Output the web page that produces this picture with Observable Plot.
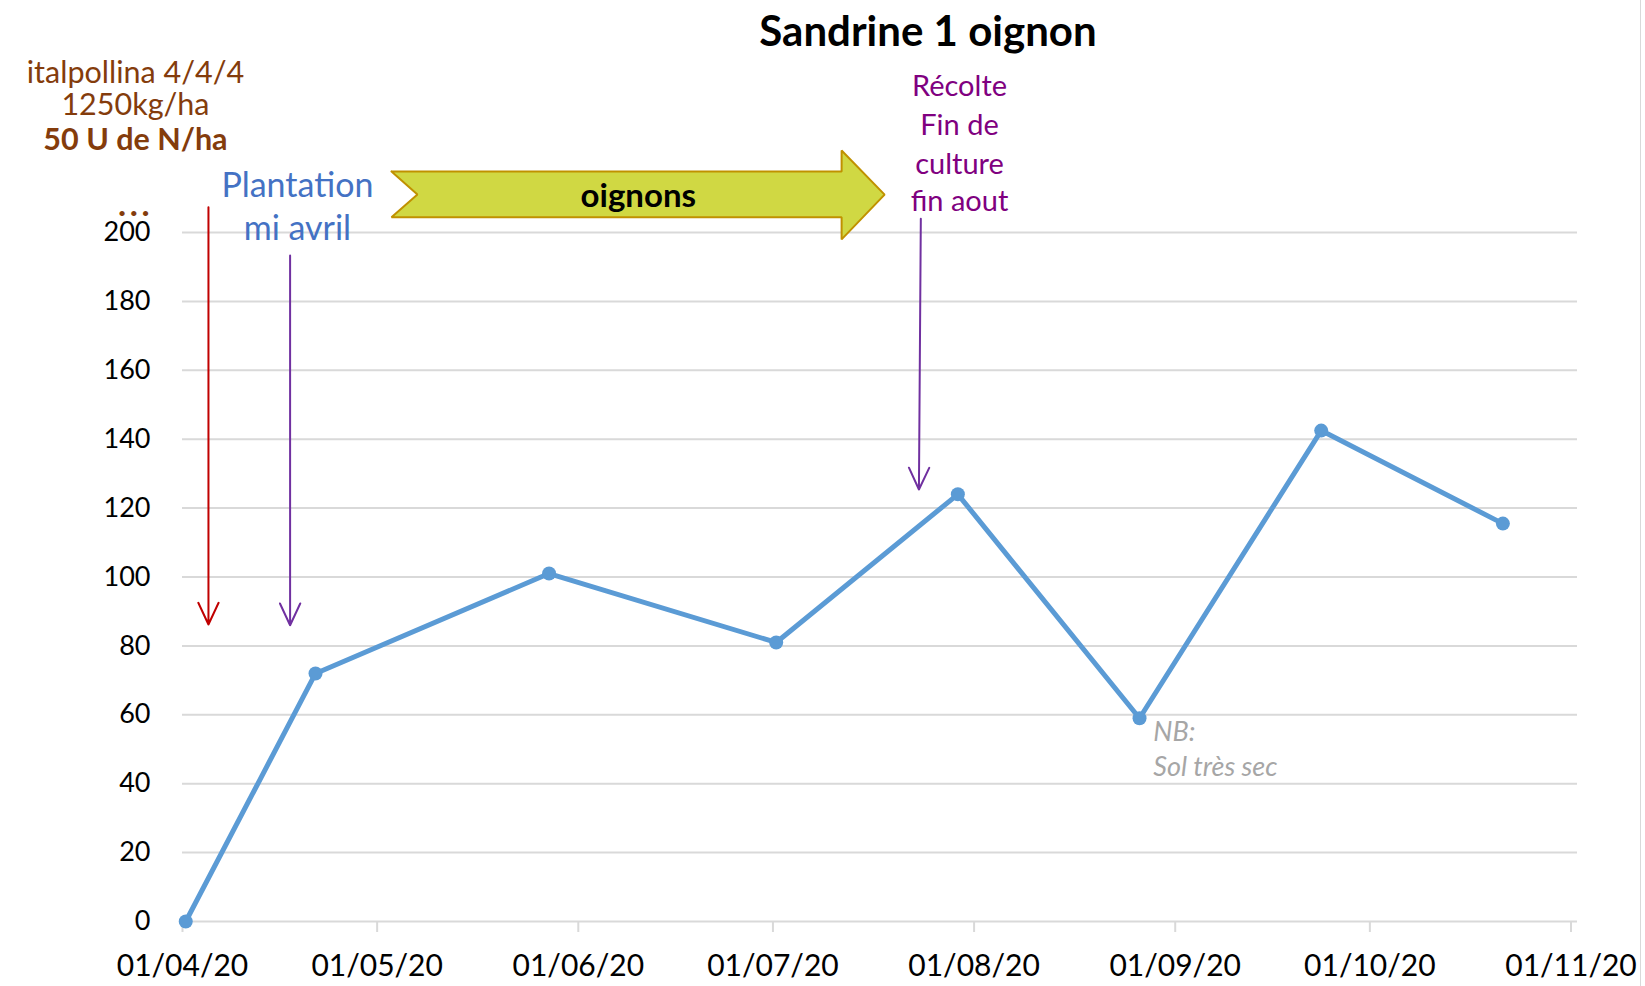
<!DOCTYPE html>
<html>
<head>
<meta charset="utf-8">
<script src="https://cdn.jsdelivr.net/npm/d3@7"></script>
<script src="https://cdn.jsdelivr.net/npm/@observablehq/plot@0.6"></script>
<style>
  body { margin: 0; background: #fff; }
  #wrap { position: relative; width: 1645px; height: 986px; overflow: hidden; font-family: Lato, sans-serif; }
  #title { position: absolute; top: 5px; left: 928px; transform: translateX(-50%); font: bold 42px Lato, sans-serif; white-space: nowrap; color: #000; }
  #edge { position: absolute; left: 1640px; top: 0; width: 1px; height: 986px; background: #d9d9d9; }
  #wrap svg { position: absolute; left: 0; top: 0; overflow: visible; }
</style>
</head>
<body>
<div id="wrap">
  <div id="edge"></div>
  <div id="title">Sandrine 1 oignon</div>
</div>
<script>
// ---- Series (nitrate reliquat, kg N/ha) ----
const dates   = ["2020-04-01","2020-04-21","2020-05-27","2020-07-01","2020-07-29","2020-08-26","2020-09-23","2020-10-21"];
const values  = [0, 72, 101, 81, 124, 59, 142.5, 115.5];

// ---- Axes ----
const xTickDates = ["2020-04-01","2020-05-01","2020-06-01","2020-07-01","2020-08-01","2020-09-01","2020-10-01","2020-11-01"];
const yTicks = [0, 20, 40, 60, 80, 100, 120, 140, 160, 180, 200];
const xDomain = ["2020-04-01","2020-11-02"];

// ---- Annotation arrows ----
const arrowX1 = ["2020-04-05T00:00Z","2020-04-17T14:00Z","2020-07-23T19:00Z"];
const arrowX2 = ["2020-04-05T00:00Z","2020-04-17T14:00Z","2020-07-23T12:00Z"];
const arrowY1 = [207.3, 193.3, 204];
const arrowY2 = [86.2, 86, 125.4];
const arrowColors = ["#c00000", "#7030a0", "#7030a0"];

// ---- Crop period block arrow ("oignons") ----
const cropArrowX = ["2020-05-03T05:00Z","2020-07-11T14:00Z","2020-07-11T14:00Z","2020-07-18T05:00Z","2020-07-11T14:00Z","2020-07-11T14:00Z","2020-05-03T05:00Z","2020-05-07T05:00Z","2020-05-03T05:00Z"];
const cropArrowY = [217.7, 217.7, 223.8, 211.0, 198.0, 204.4, 204.4, 211.0, 217.7];
const cropLabel = "oignons";
const cropLabelX = "2020-06-10T06:00Z";
const cropLabelY = 210.4;

// ---- Text annotations ----
const fertLines = ["italpollina 4/4/4", "1250kg/ha"];
const fertLinesY = [246.2, 236.9];
const fertBold = "50 U de N/ha";
const fertBoldY = 226.8;
const fertX = "2020-03-24T18:00Z";

const plantLines = ["Plantation", "mi avril"];
const plantLinesY = [213.4, 200.9];
const plantX = "2020-04-18T17:00Z";

const harvestLines = ["Récolte", "Fin de", "culture", "fin aout"];
const harvestLinesY = [242.4, 231.1, 219.8, 208.9];
const harvestX = "2020-07-29T18:00Z";

const noteLines = ["NB:", "Sol très sec"];
const noteLinesY = [54.9, 44.7];
const noteX = "2020-08-28T15:00Z";

// ---- Build tables ----
const P = d3.isoParse;
const table = dates.map((d, i) => ({date: P(d), value: values[i]}));
const arrows = arrowX1.map((d, i) => ({x1: P(d), x2: P(arrowX2[i]), y1: arrowY1[i], y2: arrowY2[i], c: arrowColors[i]}));
const cropPoly = cropArrowX.map((d, i) => ({x: P(d), y: cropArrowY[i]}));
const lines = (arr, ys, x) => arr.map((t, i) => ({t, x: P(x), y: ys[i]}));

// Excel date axis centres each point within its day
const xc = d => d3.utcHour.offset(d.date, 12);

const chart = Plot.plot({
  width: 1645,
  height: 986,
  marginTop: 232,
  marginBottom: 65,
  marginLeft: 182,
  marginRight: 68,
  style: {fontFamily: "Lato, sans-serif", color: "#000", background: "transparent", overflow: "visible"},
  x: {type: "utc", domain: xDomain.map(P)},
  y: {domain: [0, 200]},
  marks: [
    Plot.ruleY(yTicks, {stroke: "#d9d9d9", strokeWidth: 2}),
    Plot.axisY({ticks: yTicks, tickSize: 0, tickPadding: 32, fontSize: 27, label: null, fill: "#000"}),
    Plot.axisX({ticks: xTickDates.map(P), tickSize: 11, tickPadding: 22, fontSize: 30, label: null,
      stroke: "#d9d9d9", strokeWidth: 2, fill: "#000", tickFormat: d3.utcFormat("%d/%m/%y")}),
    // crop arrow
    Plot.line(cropPoly, {x: "x", y: "y", fill: "#d0d843", stroke: "#c09100", strokeWidth: 2, curve: "linear", strokeLinejoin: "miter"}),
    Plot.text([cropLabel], {x: P(cropLabelX), y: cropLabelY, text: d => d, fontSize: 33, fontWeight: "bold", fill: "#000"}),
    // annotation arrows
    Plot.arrow(arrows, {x1: "x1", x2: "x2", y1: "y1", y2: "y2", stroke: "c", strokeWidth: 2, headLength: 18, headAngle: 50}),
    // texts
    Plot.text(lines(fertLines, fertLinesY, fertX), {x: "x", y: "y", text: "t", fontSize: 30.5, fill: "#843c0c"}),
    Plot.text([{t: fertBold, x: P(fertX), y: fertBoldY}], {x: "x", y: "y", text: "t", fontSize: 30.5, fontWeight: "bold", fill: "#843c0c"}),
    Plot.text([{t: "• • •", x: P("2020-03-24T12:00Z"), y: 205.5}], {x: "x", y: "y", text: "t", fontSize: 14, fill: "#843c0c"}),
    Plot.text(lines(plantLines, plantLinesY, plantX), {x: "x", y: "y", text: "t", fontSize: 34, fill: "#4472c4"}),
    Plot.text(lines(harvestLines, harvestLinesY, harvestX), {x: "x", y: "y", text: "t", fontSize: 29, fill: "#800080"}),
    Plot.text(lines(noteLines, noteLinesY, noteX), {x: "x", y: "y", text: "t", fontSize: 27, fontStyle: "italic", fill: "#a6a6a6", textAnchor: "start"}),
    // series
    Plot.line(table, {x: xc, y: "value", stroke: "#5b9bd5", strokeWidth: 5, curve: "linear"}),
    Plot.dot(table, {x: xc, y: "value", r: 7, fill: "#5b9bd5", stroke: "none"})
  ]
});
document.getElementById("wrap").appendChild(chart);
</script>
</body>
</html>
